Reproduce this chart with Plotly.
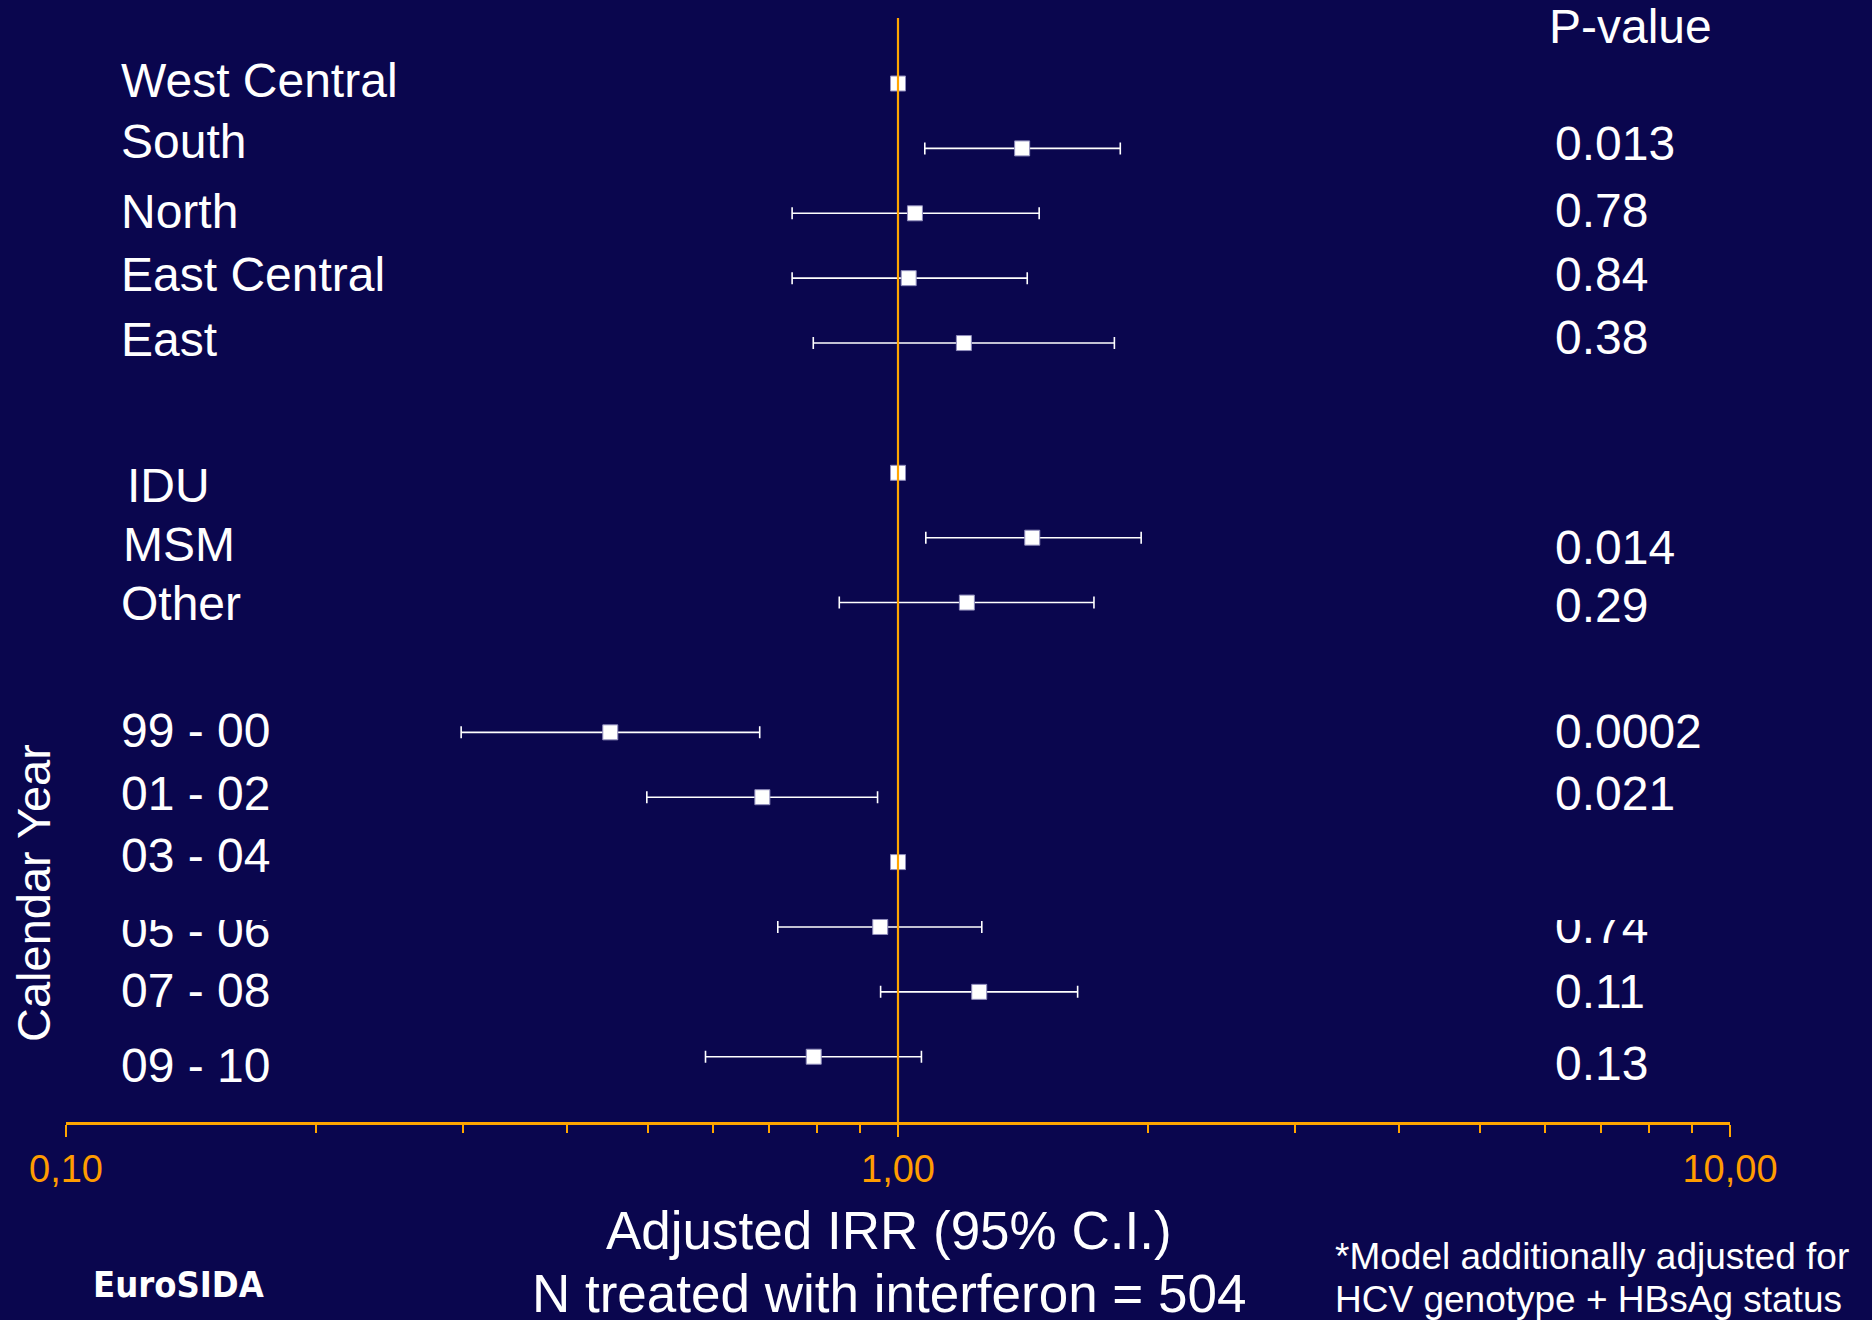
import plotly.graph_objects as go

# ---------------- data ----------------
categories = ["West Central", "South", "North", "East Central", "East",
              "IDU", "MSM", "Other",
              "99 - 00", "01 - 02", "03 - 04", "05 - 06", "07 - 08", "09 - 10"]
rows = [0, 1, 2, 3, 4, 6, 7, 8, 10, 11, 12, 13, 14, 15]
irr = [1.00, 1.41, 1.048, 1.03, 1.20, 1.00, 1.45, 1.21, 0.451, 0.687, 1.00, 0.952, 1.252, 0.792]
ci_low = [None, 1.077, 0.746, 0.746, 0.791, None, 1.08, 0.85, 0.2985, 0.499, None, 0.717, 0.953, 0.587]
ci_high = [None, 1.85, 1.478, 1.43, 1.82, None, 1.96, 1.72, 0.682, 0.945, None, 1.261, 1.644, 1.067]
p_values = ["", "0.013", "0.78", "0.84", "0.38", "", "0.014", "0.29",
            "0.0002", "0.021", "", "0.74", "0.11", "0.13"]
tick_vals = [0.1, 1, 10]
tick_text = ["0,10", "1,00", "10,00"]
minor_vals = [0.2, 0.3, 0.4, 0.5, 0.6, 0.7, 0.8, 0.9, 2, 3, 4, 5, 6, 7, 8, 9]

# ---------------- style / layout ----------------
BG = "#0a064e"
ORANGE = "#ffa500"
TICKORANGE = "#ff9c00"
WHITE = "#ffffff"
FONT = "Liberation Sans, Arial, sans-serif"
W, H = 1872, 1320
L, R, T, B = 66, 142, 18, 198
PW, PH = W - L - R, H - T - B

def px_x(p):
    return (p - L) / PW

def px_y(p):
    return (H - B - p) / PH

# small vertical nudges of the text labels relative to their rows
label_nudge = {"West Central": -0.04, "South": -0.10, "North": -0.03, "East Central": -0.06,
               "East": -0.06, "IDU": 0.20, "MSM": 0.10, "Other": 0.02, "99 - 00": -0.03,
               "01 - 02": -0.05, "03 - 04": -0.10, "05 - 06": 0.06, "07 - 08": -0.02,
               "09 - 10": 0.13}
label_dx = {"IDU": 6, "MSM": 2}
pval_nudge = {"0.013": -0.08, "0.78": -0.04, "0.84": -0.06, "0.38": -0.08,
              "0.014": 0.155, "0.29": 0.05, "0.0002": -0.02, "0.021": -0.06,
              "0.74": 0.0, "0.11": -0.005, "0.13": 0.11}

err_plus = [None if h is None else h - v for v, h in zip(irr, ci_high)]
err_minus = [None if lo is None else v - lo for v, lo in zip(irr, ci_low)]

fig = go.Figure()
fig.add_trace(go.Scatter(
    x=irr, y=rows, mode="markers",
    marker=dict(symbol="square", size=15, color=WHITE,
                line=dict(color="#8f8cbc", width=1)),
    error_x=dict(type="data", symmetric=False, array=err_plus, arrayminus=err_minus,
                 color=WHITE, thickness=1.6, width=6),
    showlegend=False, hoverinfo="skip",
))

annotations = []
for cat, r in zip(categories, rows):
    annotations.append(dict(
        text=cat, xref="paper", yref="y", x=px_x(119 + label_dx.get(cat, 0)),
        y=r + label_nudge.get(cat, 0), xanchor="left", yanchor="middle",
        showarrow=False, font=dict(family=FONT, size=48, color=WHITE)))
for pv, r in zip(p_values, rows):
    if pv:
        annotations.append(dict(
            text=pv, xref="paper", yref="y", x=px_x(1553),
            y=r + pval_nudge.get(pv, 0), xanchor="left", yanchor="middle",
            showarrow=False, font=dict(family=FONT, size=48, color=WHITE)))

annotations += [
    dict(text="P-value", xref="paper", yref="paper", x=px_x(1547), y=px_y(26),
         xanchor="left", yanchor="middle", showarrow=False,
         font=dict(family=FONT, size=48, color=WHITE)),
    dict(text="Calendar Year", xref="paper", yref="paper", x=px_x(33), y=px_y(893),
         xanchor="center", yanchor="middle", textangle=-90, showarrow=False,
         font=dict(family=FONT, size=47, color=WHITE)),
    dict(text="Adjusted IRR (95% C.I.)", xref="paper", yref="paper", x=px_x(889), y=px_y(1230),
         xanchor="center", yanchor="middle", showarrow=False,
         font=dict(family=FONT, size=53, color=WHITE)),
    dict(text="N treated with interferon = 504", xref="paper", yref="paper", x=px_x(889),
         y=px_y(1293), xanchor="center", yanchor="middle", showarrow=False,
         font=dict(family=FONT, size=53, color=WHITE)),
    dict(text="<b>EuroSIDA</b>", xref="paper", yref="paper", x=px_x(91), y=px_y(1284),
         xanchor="left", yanchor="middle", showarrow=False,
         font=dict(family="Liberation Sans Narrow, DejaVu Sans Condensed, sans-serif",
                   size=36, color=WHITE)),
    dict(text="*Model additionally adjusted for", xref="paper", yref="paper", x=px_x(1333),
         y=px_y(1256), xanchor="left", yanchor="middle", showarrow=False,
         font=dict(family=FONT, size=37, color=WHITE)),
    dict(text="HCV genotype + HBsAg status", xref="paper", yref="paper", x=px_x(1333),
         y=px_y(1299), xanchor="left", yanchor="middle", showarrow=False,
         font=dict(family=FONT, size=37, color=WHITE)),
    # covers that clip the top of the "05 - 06" row texts as in the original slide
    dict(text=" ", xref="paper", yref="paper", x=px_x(115), y=px_y(903),
         xanchor="left", yanchor="middle", showarrow=False, width=170, height=34,
         bgcolor=BG, borderpad=0, borderwidth=0),
    dict(text=" ", xref="paper", yref="paper", x=px_x(1545), y=px_y(903),
         xanchor="left", yanchor="middle", showarrow=False, width=170, height=34,
         bgcolor=BG, borderpad=0, borderwidth=0),
]

fig.update_layout(
    width=W, height=H,
    margin=dict(l=L, r=R, t=T, b=B, pad=0),
    paper_bgcolor=BG, plot_bgcolor=BG,
    showlegend=False,
    annotations=annotations,
    shapes=[dict(type="line", xref="x", yref="paper", x0=1, x1=1, y0=0, y1=1,
                 line=dict(color=ORANGE, width=2.2), layer="above")],
    xaxis=dict(type="log", range=[-1, 1], showgrid=False, zeroline=False,
               showline=True, linecolor=ORANGE, linewidth=2.5,
               ticks="outside", ticklen=12, tickwidth=1.8, tickcolor=ORANGE,
               tickvals=tick_vals, ticktext=tick_text, ticklabelstandoff=0,
               tickfont=dict(family=FONT, size=38, color=TICKORANGE),
               minor=dict(tickvals=minor_vals, ticks="outside", ticklen=8,
                          tickwidth=1.5, tickcolor=ORANGE, showgrid=False),
               fixedrange=True),
    yaxis=dict(range=[16.006, -1.01], visible=False, showgrid=False, zeroline=False,
               fixedrange=True),
)

fig.write_html("out.html")
